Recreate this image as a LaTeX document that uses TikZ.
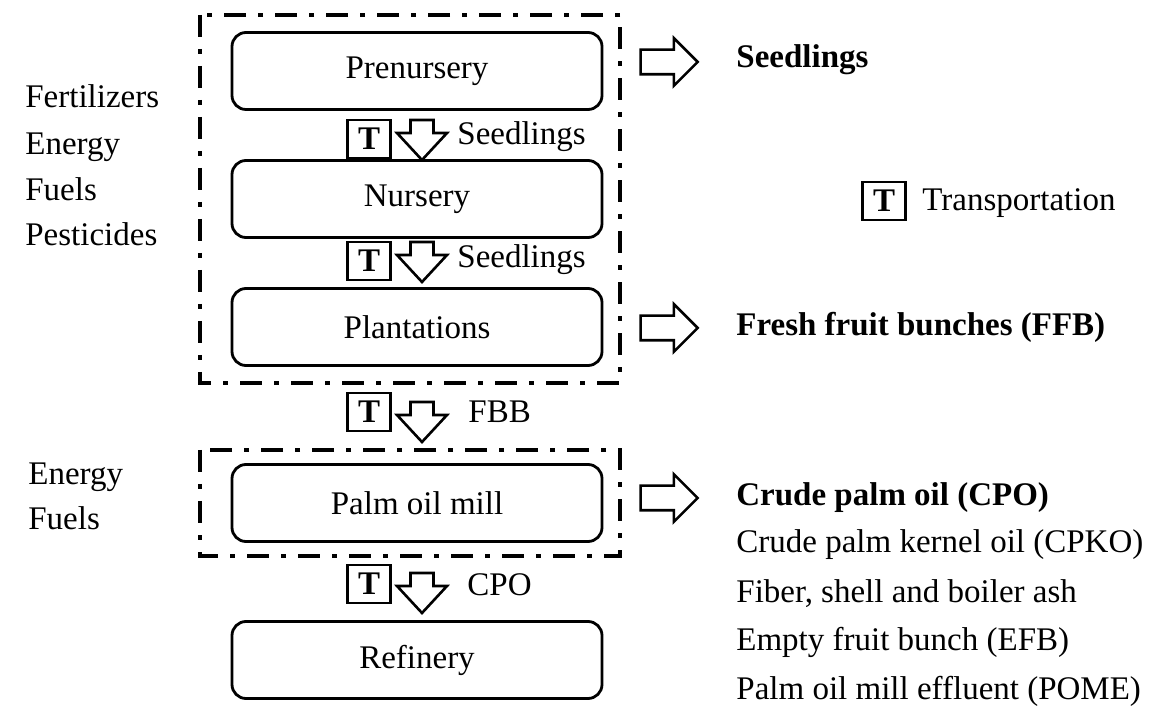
\documentclass[tikz,border=0pt]{standalone}
\usepackage{fontspec}
\setmainfont{Liberation Serif}
\usetikzlibrary{shapes.arrows}
\tikzset{
  stage/.style={draw, rounded corners=7pt, line width=1.4pt, minimum width=185pt, minimum height=38.5pt},
  frame/.style={line width=2pt, dash pattern=on 11pt off 6pt on 2.5pt off 6pt},
  tbox/.style={draw, line width=1.2pt, minimum width=21.5pt, minimum height=19pt, inner sep=0pt, font=\bfseries},
  hollow/.style={draw, line width=1.3pt, line join=miter},
  rightarrow/.style={single arrow, draw, line width=1.3pt, minimum height=28.5pt, inner sep=5.5pt, single arrow head extend=5.75pt},
  txt/.style={anchor=west, inner sep=0pt, text height=11pt, text depth=3.5pt},
}
% hollow down arrow: #1 = centre x, #2 = top y
\newcommand{\downflow}[2]{%
  \draw[hollow] ({#1-11.5},#2) -- ({#1+11.5},#2) -- ({#1+11.5},{#2+13}) -- ({#1+25},{#2+13})
    -- (#1,{#2+40}) -- ({#1-25},{#2+13}) -- ({#1-11.5},{#2+13}) -- cycle;}
\begin{document}
\fontsize{16.5}{20}\selectfont
\begin{tikzpicture}[x=0.5pt, y=-0.5pt]
    \useasboundingbox (0,0) rectangle (1161,710);
    % stages
    \node[stage] (prenursery) at (417,71) {Prenursery};
    \node[stage] (nursery) at (417,199) {Nursery};
    \node[stage] (plantations) at (417,327) {Plantations};
    \node[stage] (mill) at (417,503) {Palm oil mill};
    \node[stage] (refinery) at (417,660) {Refinery};
    % dash-dot frames
    \draw[frame] (200,15) rectangle (620,383);
    \draw[frame] (200,450) rectangle (620,556);
    % transport steps
    \node[tbox] (t1) at (369,139) {T};
    \downflow{422}{120}
    \node[txt] (s1) at (457,137) {Seedlings};
    \node[tbox] (t2) at (369,261) {T};
    \downflow{422}{242}
    \node[txt] (s2) at (457,260) {Seedlings};
    \node[tbox] (t3) at (369,412) {T};
    \downflow{422}{402}
    \node[txt] (s3) at (468,415) {FBB};
    \node[tbox] (t4) at (369,584) {T};
    \downflow{422}{573}
    \node[txt] (s4) at (467,588) {CPO};
    % inputs
    \node[txt] (in1) at (25,100) {Fertilizers};
    \node[txt] (in2) at (25,147) {Energy};
    \node[txt] (in3) at (25,193) {Fuels};
    \node[txt] (in4) at (25,238) {Pesticides};
    \node[txt] (in5) at (28,477) {Energy};
    \node[txt] (in6) at (28,522) {Fuels};
    % outputs
    \node[rightarrow] (r1) at (663,62) {};
    \node[txt, font=\bfseries] (out1) at (736,60) {Seedlings};
    \node[rightarrow] (r2) at (663,328) {};
    \node[txt, font=\bfseries] (out2) at (736,328) {Fresh fruit bunches (FFB)};
    \node[rightarrow] (r3) at (663,498) {};
    \node[txt, font=\bfseries] (out3) at (736,498) {Crude palm oil (CPO)};
    \node[txt] (out4) at (736,545) {Crude palm kernel oil (CPKO)};
    \node[txt] (out5) at (736,595) {Fiber, shell and boiler ash};
    \node[txt] (out6) at (736,643) {Empty fruit bunch (EFB)};
    \node[txt] (out7) at (736,692) {Palm oil mill effluent (POME)};
    % legend
    \node[tbox] (tleg) at (884,201) {T};
    \node[txt] (leg) at (922,203) {Transportation};
\end{tikzpicture}
\end{document}
